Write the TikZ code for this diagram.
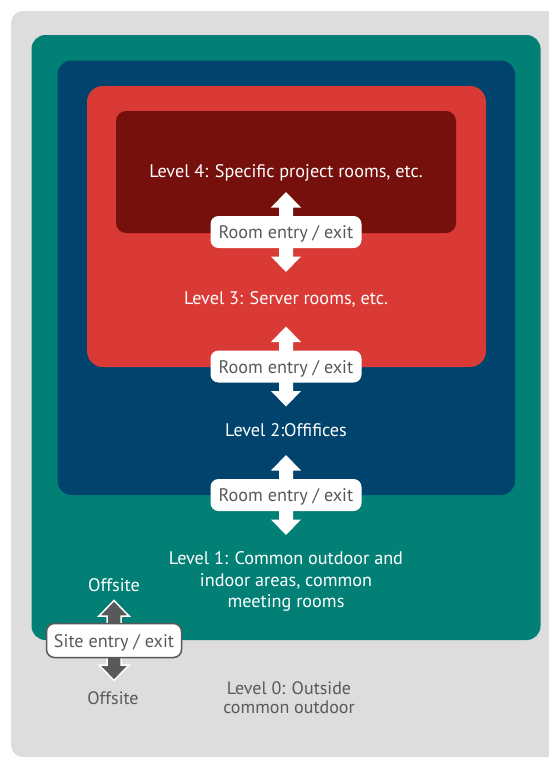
\documentclass[tikz,border=0pt]{standalone}
\usepackage{fontspec}
\setmainfont{PT Sans}
\definecolor{bggray}{HTML}{DCDDDC}
\definecolor{lvteal}{HTML}{028075}
\definecolor{lvnavy}{HTML}{00446E}
\definecolor{lvred}{HTML}{DA3A35}
\definecolor{lvdark}{HTML}{76100C}
\definecolor{txtgray}{HTML}{58595B}
\begin{document}
\begin{tikzpicture}[x=1pt,y=-1pt,
  lvtext/.style={text=white, font=\fontsize{18.2}{21.5}\selectfont, align=center, inner sep=0pt, text height=13pt, text depth=0pt},
  lvmulti/.style={text=white, font=\fontsize{18.2}{21.5}\selectfont, align=center, inner sep=0pt},
  gtext/.style={text=txtgray, font=\fontsize{18}{19.5}\selectfont, align=center, inner sep=0pt},
  doorbox/.style={fill=white, rounded corners=8pt, minimum width=151pt, minimum height=32pt, inner sep=0pt, text=txtgray, font=\fontsize{18.2}{20}\selectfont, text height=13pt, text depth=0pt},
  sitebox/.style={fill=white, draw=txtgray, line width=1.5pt, rounded corners=8pt, minimum width=135pt, minimum height=34pt, inner sep=0pt, text=txtgray, font=\fontsize{18.2}{20}\selectfont, text height=13pt, text depth=0pt},
  dblarr/.pic={\path[pic actions] (0,-40) -- (15,-24.5) -- (7,-24.5) -- (7,24.5) -- (15,24.5) -- (0,40) -- (-15,24.5) -- (-7,24.5) -- (-7,-24.5) -- (-15,-24.5) -- cycle;}
]
\useasboundingbox (0,0) rectangle (549,758);
\clip (0,0) rectangle (549,758);
% level areas
\fill[bggray, rounded corners=12pt] (11,11) rectangle (575,757);
\fill[lvteal, rounded corners=14pt] (31.5,35) rectangle (540.5,640);
\fill[lvnavy, rounded corners=14pt] (57.5,60.5) rectangle (515,495);
\fill[lvred, rounded corners=16pt] (87,86) rectangle (486,367);
\fill[lvdark, rounded corners=10pt] (116,111) rectangle (456,233);
% door positions
\coordinate (d43) at (286,232);
\coordinate (d32) at (286,366.5);
\coordinate (d21) at (286,495);
\coordinate (d10) at (114,640.5);
% arrows
\pic[fill=white] at (d43) {dblarr};
\pic[fill=white] at (d32) {dblarr};
\pic[fill=white] at (d21) {dblarr};
\pic[fill=txtgray, draw=white, line width=1.5pt] at (d10) {dblarr};
% door labels
\node[doorbox] (b43) at (d43) {Room entry / exit};
\node[doorbox] (b32) at (d32) {Room entry / exit};
\node[doorbox] (b21) at (d21) {Room entry / exit};
\node[sitebox] (b10) at (d10) {Site entry / exit};
% level labels
\node[lvtext] (l4) at (286,171) {Level 4: Specific project rooms, etc.};
\node[lvtext] (l3) at (286,298) {Level 3: Server rooms, etc.};
\node[lvtext] (l2) at (286,430) {Level 2:Offifices};
\node[lvmulti] (l1) at (286,581.5) {Level 1: Common outdoor and\\indoor areas, common\\meeting rooms};
\node[lvtext] (off1) at (114,585) {Offsite};
\node[gtext, text height=13pt, text depth=0pt] (off0) at (113,698) {Offsite};
\node[gtext] (l0) at (289,697.5) {Level 0: Outside\\common outdoor};
\end{tikzpicture}
\end{document}
